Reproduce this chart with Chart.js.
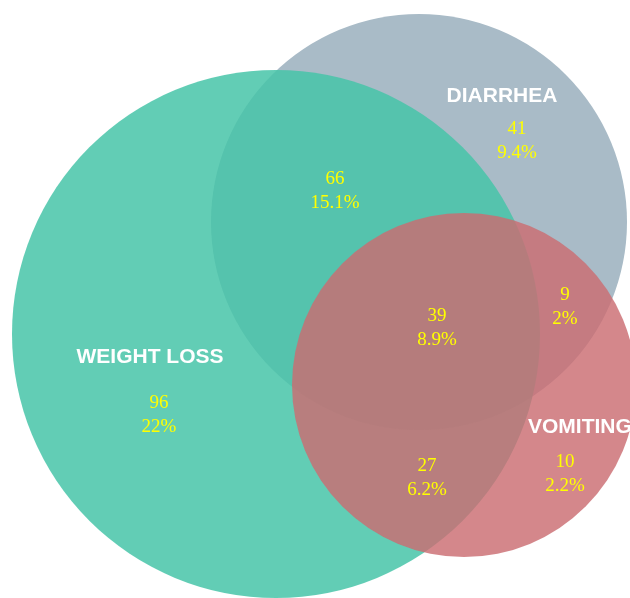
<!DOCTYPE html>
<html>
<head>
<meta charset="utf-8">
<script src="https://cdn.jsdelivr.net/npm/chart.js@4.4.1/dist/chart.umd.min.js"></script>
<style>
  body { margin: 0; background: #fff; }
  #wrap { width: 630px; height: 598px; position: relative; }
</style>
</head>
<body>
<div id="wrap"><canvas id="venn"></canvas></div>
<script>
// sets (circle centre and radius in chart units, y grows downward;
// the axes run 0..630 / 0..598 so one unit is one pixel)
const setNames = ['WEIGHT LOSS', 'DIARRHEA', 'VOMITING'];
const setX = [276, 419, 464];
const setY = [334, 222, 385];
const setR = [264, 208, 172];
// where each set name sits
const setLabelX = [150, 502, 528];
const setLabelY = [357, 96, 427];

// region counts and shares
const regionCounts = [96, 66, 41, 39, 9, 27, 10];
const regionPercents = ['22%', '15.1%', '9.4%', '8.9%', '2%', '6.2%', '2.2%'];
const regionX = [159, 335, 517, 437, 565, 427, 565];
const regionY = [415, 191, 141, 328, 307, 478, 474];

const setColors = ['rgba(71, 196, 168, 0.85)', 'rgba(169, 187, 199, 1)', 'rgba(203, 109, 114, 0.82)'];
const drawOrder = [2, 3, 1]; // blue at the bottom, red on top

const vennLabels = {
  id: 'vennLabels',
  afterDatasetsDraw(chart) {
    const c = chart.ctx;
    const xs = chart.scales.x, ys = chart.scales.y;
    c.save();
    c.textBaseline = 'middle';

    c.fillStyle = '#ffffff';
    c.font = 'bold 21px "Liberation Sans", Arial, sans-serif';
    setNames.forEach((name, i) => {
      c.textAlign = i === 2 ? 'left' : 'center';
      c.fillText(name, xs.getPixelForValue(setLabelX[i]), ys.getPixelForValue(setLabelY[i]));
    });

    c.fillStyle = '#ffff00';
    c.font = '19px "Liberation Serif", "Times New Roman", serif';
    c.textAlign = 'center';
    regionCounts.forEach((n, i) => {
      const px = xs.getPixelForValue(regionX[i]);
      const py = ys.getPixelForValue(regionY[i]);
      c.fillText(String(n), px, py - 12);
      c.fillText(regionPercents[i], px, py + 12);
    });
    c.restore();
  }
};

new Chart(document.getElementById('venn'), {
  type: 'bubble',
  data: {
    datasets: setNames.map((name, i) => ({
      label: name,
      data: [{ x: setX[i], y: setY[i], r: setR[i] }],
      backgroundColor: setColors[i],
      borderWidth: 0,
      order: drawOrder[i],
      clip: false
    }))
  },
  options: {
    responsive: true,
    maintainAspectRatio: false,
    animation: false,
    events: [],
    layout: { padding: 0, autoPadding: false },
    plugins: { legend: { display: false }, tooltip: { enabled: false } },
    scales: {
      x: { type: 'linear', min: 0, max: 630, display: false },
      y: { type: 'linear', min: 0, max: 598, reverse: true, display: false }
    }
  },
  plugins: [vennLabels]
});
</script>
</body>
</html>
